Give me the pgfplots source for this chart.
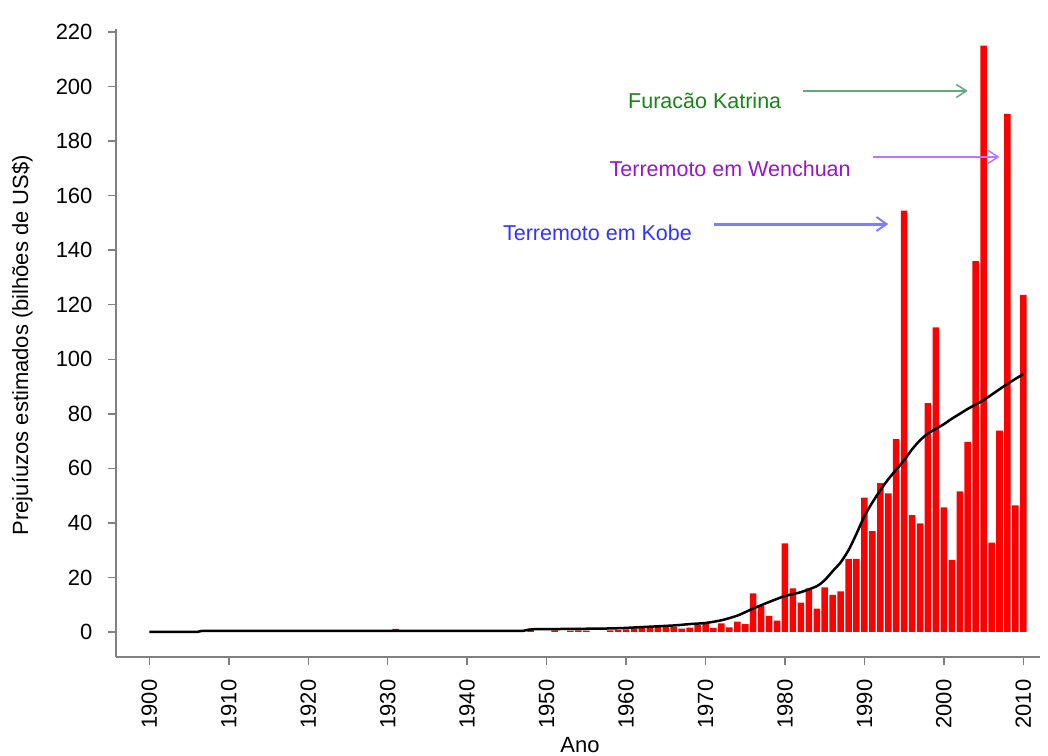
\documentclass[border=0pt]{standalone}
\usepackage{fontspec}
\setmainfont{Liberation Sans}
\usepackage{pgfplots}
\usepackage{pgfplotstable}
\pgfplotsset{compat=1.18}
\usetikzlibrary{arrows.meta}
\definecolor{axgray}{RGB}{128,128,128}
\definecolor{katt}{RGB}{20,135,20}
\definecolor{kata}{RGB}{95,170,125}
\definecolor{went}{RGB}{153,20,204}
\definecolor{wena}{RGB}{190,115,255}
\definecolor{kobt}{RGB}{51,51,255}
\definecolor{koba}{RGB}{125,125,255}

\pgfplotstableread{
year value
1931 1.1
1948 0.8
1951 0.6
1953 0.5
1954 0.6
1955 0.5
1958 0.6
1959 0.8
1960 1.0
1961 1.3
1962 1.5
1963 2.0
1964 2.2
1965 2.5
1966 1.8
1967 1.2
1968 1.6
1969 2.5
1970 3.0
1971 1.5
1972 3.2
1973 1.7
1974 3.8
1975 2.9
1976 14.2
1977 9.5
1978 5.9
1979 4.2
1980 32.5
1981 16.0
1982 10.8
1983 16.0
1984 8.6
1985 16.4
1986 13.6
1987 14.9
1988 26.8
1989 26.8
1990 49.3
1991 37.0
1992 54.6
1993 50.8
1994 70.7
1995 154.5
1996 42.9
1997 39.8
1998 83.9
1999 111.7
2000 45.7
2001 26.4
2002 51.6
2003 69.7
2004 136.0
2005 215.0
2006 32.8
2007 73.8
2008 190.0
2009 46.4
2010 123.6
}\bars

\pgfplotstableread{
year value
1900 0.0
1906 0.0
1906.6 0.4
1947 0.4
1948 1.0
}\trendA

\pgfplotstableread{
year value
1948 1.0
1958 1.3
1962 1.8
1966 2.4
1968 2.9
1970 3.3
1972 4.3
1974 6.0
1976 8.6
1978 11.0
1980 13.2
1982 14.6
1984 16.8
1985 19.0
1986 22.3
1987 25.5
1988 30.0
1989 36.0
1990 42.5
1991 47.5
1992 52.0
1993 56.0
1994 59.5
1995 63.0
1996 67.0
1997 70.3
1998 72.8
1999 74.5
2000 76.2
2001 78.2
2002 80.0
2003 81.8
2004 83.4
2005 85.0
2006 87.0
2007 89.0
2008 91.0
2009 92.8
2010 94.6
}\trendB

\begin{document}
\fontsize{22}{26}\selectfont
\begin{tikzpicture}[x=1pt,y=1pt]
\useasboundingbox (0,0) rectangle (1048,755);
\begin{axis}[
  at={(116pt,98pt)}, anchor=south west,
  scale only axis, width=924pt, height=627.7pt,
  xmin=1895.8, xmax=2012.1, ymin=-9.17, ymax=221,
  axis x line*=bottom, axis y line*=left,
  axis line style={axgray, line width=2pt},
  xtick={1900,1910,...,2010},
  ytick={0,20,...,220},
  tick align=outside,
  major tick length=8pt,
  tick style={axgray, line width=1.5pt},
  xticklabel style={yshift=-7pt, rotate=90, anchor=east, font=\fontsize{22}{26}\selectfont},
  yticklabel style={xshift=-8pt, font=\fontsize{22}{26}\selectfont},
  /pgf/number format/assume math mode=true,
  /pgf/number format/1000 sep={},
  clip=false,
]
\addplot[ybar, bar width=0.82, fill=red, draw=none] table[x=year, y=value] {\bars};
\addplot[black, line width=2.5pt, line join=round] table[x=year, y=value] {\trendA};
\addplot[black, line width=2.5pt, smooth, tension=0.4] table[x=year, y=value] {\trendB};

\draw[kata, line width=1.5pt, -{Straight Barb[length=10pt, width=13pt, line width=1.5pt]}] (axis cs:1982.3,198.4) -- (axis cs:2003.0,198.4);
\draw[wena, line width=1.5pt, -{Straight Barb[length=10pt, width=13pt, line width=1.5pt]}] (axis cs:1991.1,174.2) -- (axis cs:2007.0,174.2);
\draw[koba, line width=3pt, -{Straight Barb[length=10pt, width=14pt, line width=2pt]}] (axis cs:1971.1,149.6) -- (axis cs:1993.0,149.6);

\node[katt, font=\fontsize{21.5}{25}\selectfont] at (axis cs:1969.9,194.7) {Furacão Katrina};
\node[went, font=\fontsize{21.5}{25}\selectfont] at (axis cs:1973.1,169.8) {Terremoto em Wenchuan};
\node[kobt, font=\fontsize{21.5}{25}\selectfont] at (axis cs:1956.4,146.4) {Terremoto em Kobe};

\node[font=\fontsize{22}{26}\selectfont] at (axis cs:1954.2,-41.4) {Ano};
\node[rotate=90, font=\fontsize{22}{26}\selectfont] at (axis cs:1884.0,105.2) {Prejuíuzos estimados (bilhões de US\$)};
\end{axis}
\end{tikzpicture}
\end{document}
